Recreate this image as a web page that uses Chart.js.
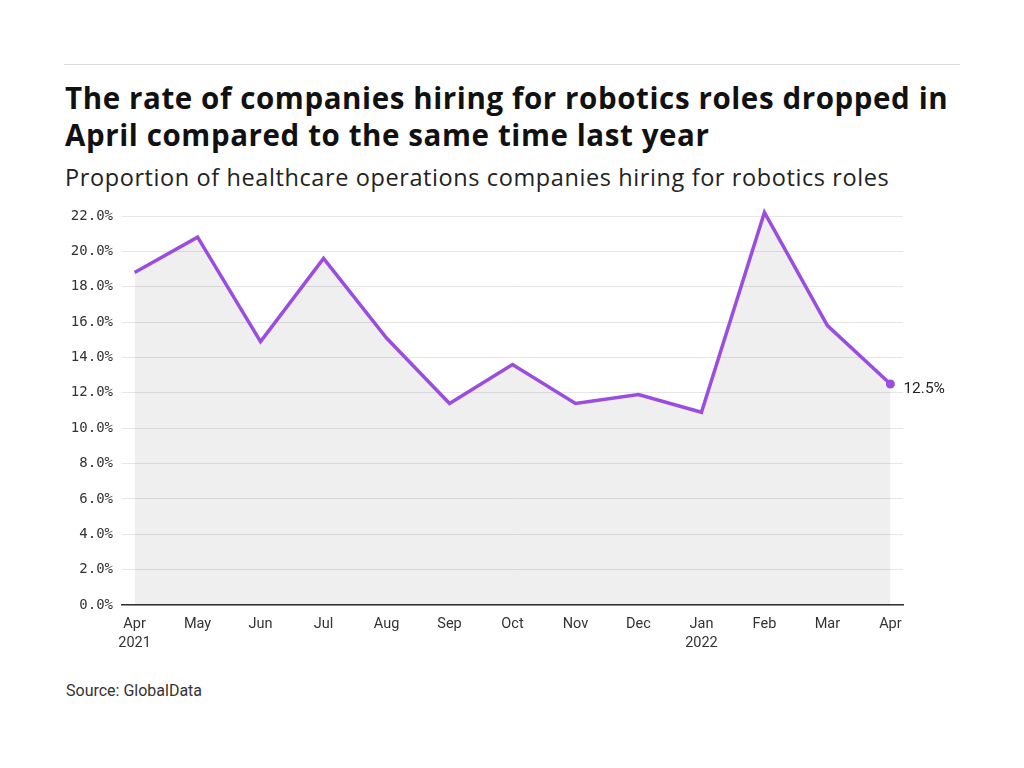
<!DOCTYPE html>
<html>
<head>
<meta charset="utf-8">
<script src="https://cdn.jsdelivr.net/npm/chart.js@4"></script>
<style>
  body { margin: 0; background: #fff; font-family: Roboto, sans-serif; color: #1a1a1a; }
  #page { position: relative; width: 1024px; height: 768px; overflow: hidden; }
  #rule { position: absolute; left: 64px; top: 64px; width: 896px; height: 1px; background: #dcdcdc; }
  #title { position: absolute; left: 65px; top: 79px; width: 900px; font-family: "Open Sans", sans-serif; font-size: 29.5px; font-weight: 700; line-height: 37px; letter-spacing: 0.6px; color: #111; }
  #subtitle { position: absolute; left: 65px; top: 161px; font-family: "Open Sans", sans-serif; font-size: 23.5px; font-weight: 400; letter-spacing: 0.6px; color: #222; }
  #source { position: absolute; left: 66px; top: 681px; font-size: 16px; color: #333; }
  #wrap { position: absolute; left: 0; top: 190px; width: 1024px; height: 480px; }
</style>
</head>
<body>
<div id="page">
  <div id="rule"></div>
  <div id="title">The rate of companies hiring for robotics roles dropped in<br>April compared to the same time last year</div>
  <div id="subtitle">Proportion of healthcare operations companies hiring for robotics roles</div>
  <div id="wrap"><canvas id="chart"></canvas></div>
  <div id="source">Source: GlobalData</div>
</div>
<script>
var months = ["Apr", "May", "Jun", "Jul", "Aug", "Sep", "Oct", "Nov", "Dec", "Jan", "Feb", "Mar", "Apr"];
var years = ["2021", "", "", "", "", "", "", "", "", "2022", "", "", ""];
var hiringRate = [18.8, 20.8, 14.9, 19.6, 15.1, 11.4, 13.6, 11.4, 11.9, 10.9, 22.2, 15.8, 12.5];
var yTicks = [0, 2, 4, 6, 8, 10, 12, 14, 16, 18, 20, 22];

var points = hiringRate.map(function (v, i) { return { x: i, y: v }; });
var last = hiringRate.length - 1;

var endLabel = {
    id: 'endLabel',
    afterDatasetsDraw: function (chart) {
        var meta = chart.getDatasetMeta(0);
        var pt = meta.data[last];
        var c = chart.ctx;
        c.save();
        c.font = '15.5px Roboto, sans-serif';
        c.fillStyle = '#222';
        c.textBaseline = 'middle';
        c.fillText(hiringRate[last].toFixed(1) + '%', pt.x + 13, pt.y + 5);
        c.restore();
    }
};

var ctx = document.getElementById('chart');
var chart = new Chart(ctx, {
    type: 'line',
    data: {
        datasets: [{
            data: points,
            borderColor: '#9b4ddf',
            backgroundColor: 'rgba(0,0,0,0.063)',
            borderWidth: 3.5,
            fill: 'origin',
            tension: 0,
            clip: false,
            pointRadius: function (c) { return c.dataIndex === last ? 4.5 : 0; },
            pointBackgroundColor: '#9b4ddf',
            pointBorderWidth: 0
        }]
    },
    options: {
        responsive: true,
        maintainAspectRatio: false,
        animation: false,
        layout: { padding: { left: 60, right: 121, top: 26, bottom: 0 } },
        plugins: { legend: { display: false }, tooltip: { enabled: false } },
        scales: {
            x: {
                type: 'linear',
                min: -0.2,
                max: 12.2,
                z: 1,
                afterBuildTicks: function (s) {
                    s.ticks = months.map(function (m, i) { return { value: i }; });
                },
                afterFit: function (s) { s.height = 65; },
                grid: { display: false },
                border: { display: true, color: '#333', width: 1.6 },
                ticks: {
                    padding: 2,
                    autoSkip: false,
                    maxRotation: 0,
                    color: '#333',
                    font: { family: 'Roboto, sans-serif', size: 14.5, lineHeight: 1.3 },
                    callback: function (v) {
                        return years[v] ? [months[v], years[v]] : months[v];
                    }
                }
            },
            y: {
                min: 0,
                max: 22,
                afterBuildTicks: function (s) {
                    s.ticks = yTicks.map(function (v) { return { value: v }; });
                },
                afterFit: function (s) { s.width = 62; },
                border: { display: false },
                grid: {
                    drawTicks: false,
                    color: '#e6e6e6',
                    lineWidth: 1
                },
                ticks: {
                    padding: 9,
                    color: '#333',
                    font: { family: '"DejaVu Sans Mono", monospace', size: 14 },
                    callback: function (v) { return v.toFixed(1) + '%'; }
                }
            }
        }
    },
    plugins: [endLabel]
});
</script>
</body>
</html>
